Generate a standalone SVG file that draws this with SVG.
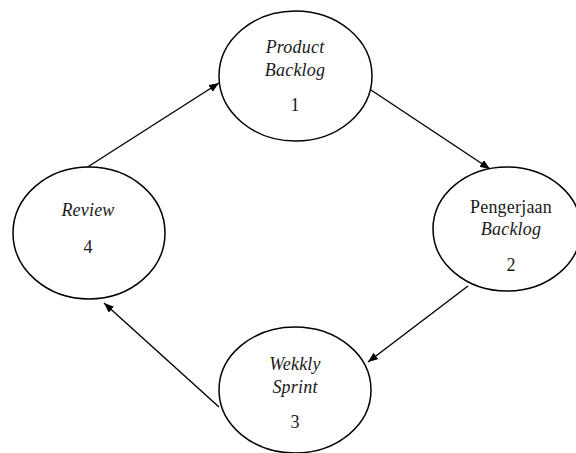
<svg xmlns="http://www.w3.org/2000/svg" width="576" height="453" viewBox="0 0 576 453">
  <style>
    .node ellipse { fill: #fff; stroke: #000; stroke-width: 1.5; }
    .node text { font-family: Liberation Serif, serif; font-size: 18px; fill: #1a1a1a; text-anchor: middle; letter-spacing: 0.2px; }
    .it { font-style: italic; }
    .edge { stroke: #000; stroke-width: 1.4; fill: none; marker-end: url(#arrow); }
  </style>
  <defs>
    <marker id="arrow" viewBox="0 0 10 8" refX="10" refY="4" markerWidth="10" markerHeight="8" markerUnits="userSpaceOnUse" orient="auto">
      <path d="M0,0 L10,4 L0,8 Z" fill="#000"/>
    </marker>
  </defs>
  <rect width="576" height="453" fill="#fff"/>

  <g id="connectors">
    <line class="edge" x1="86" y1="168" x2="219" y2="83"/>
    <line class="edge" x1="371" y1="90" x2="490" y2="169"/>
    <line class="edge" x1="468" y1="286" x2="368" y2="362"/>
    <line class="edge" x1="219" y1="407" x2="104" y2="303"/>
  </g>

  <g id="node-1" class="node">
    <ellipse cx="295.5" cy="76" rx="76.5" ry="65"/>
    <text x="295" y="53" class="it">Product</text>
    <text x="295" y="76" class="it">Backlog</text>
    <text x="295" y="111">1</text>
  </g>

  <g id="node-2" class="node">
    <ellipse cx="507" cy="229" rx="74" ry="62"/>
    <text x="511" y="213">Pengerjaan</text>
    <text x="511" y="235" class="it">Backlog</text>
    <text x="511" y="271">2</text>
  </g>

  <g id="node-3" class="node">
    <ellipse cx="295" cy="390" rx="76" ry="63"/>
    <text x="295" y="370" class="it">Wekkly</text>
    <text x="295" y="393" class="it">Sprint</text>
    <text x="295" y="428">3</text>
  </g>

  <g id="node-4" class="node">
    <ellipse cx="89" cy="233" rx="76" ry="66"/>
    <text x="88" y="216" class="it">Review</text>
    <text x="88" y="253">4</text>
  </g>
</svg>
